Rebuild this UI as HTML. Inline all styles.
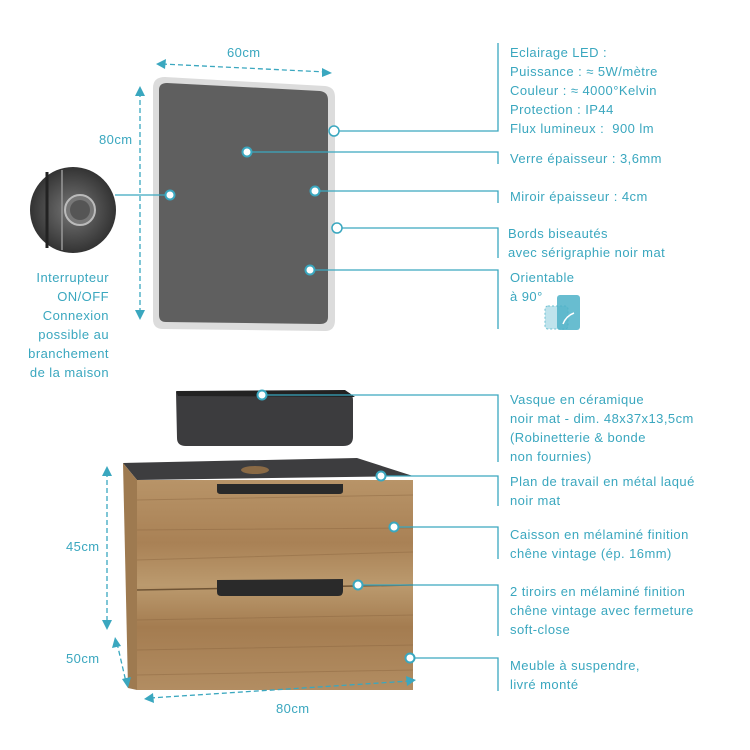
<!DOCTYPE html>
<html><head><meta charset="utf-8"><style>
body{margin:0;width:750px;height:750px;background:#fff;overflow:hidden;position:relative;font-family:"Liberation Sans",sans-serif;color:#3aa7bf}
.t{position:absolute;font-size:13px;letter-spacing:0.45px;line-height:19px;white-space:nowrap}
.r{text-align:right}
</style></head><body>
<svg width="750" height="750" style="position:absolute;left:0;top:0">
<defs>
<linearGradient id="wood" x1="0" y1="0" x2="0" y2="1">
<stop offset="0" stop-color="#b89468"/><stop offset="0.3" stop-color="#a98155"/><stop offset="0.5" stop-color="#bb9a6e"/><stop offset="0.7" stop-color="#a47c50"/><stop offset="1" stop-color="#b28d62"/></linearGradient>
<radialGradient id="sw" cx="0.5" cy="0.5" r="0.5"><stop offset="0" stop-color="#777"/><stop offset="1" stop-color="#333"/></radialGradient>
</defs>
<path d="M165,77 L325,86 Q335,87 335,97 L335,320 Q335,331 325,331 L163,329 Q153,329 153,319 L153,88 Q153,77 165,77Z" fill="#dcdcdc"/>
<path d="M167,83 L320,91 Q328,92 328,100 L328,317 Q328,324 320,324 L166,322 Q159,322 159,315 L159,90 Q159,83 167,83Z" fill="#5f5f5f"/>
<circle cx="73" cy="210" r="43" fill="url(#sw)"/>
<line x1="47" y1="172" x2="47" y2="248" stroke="#222" stroke-width="3"/>
<line x1="62" y1="170" x2="62" y2="250" stroke="#999" stroke-width="1.5"/>
<circle cx="80" cy="210" r="15" fill="#777" stroke="#bbb" stroke-width="2"/>
<circle cx="80" cy="210" r="10" fill="#555"/>
<path d="M176,392 L340,391 Q353,391 353,400 L353,437 Q353,446 343,446 L186,446 Q177,446 177,438Z" fill="#3c3c3e"/>
<path d="M176,391 L345,390 L355,397 L178,396Z" fill="#222"/>
<path d="M123,463 L357,458 L413,476 L137,480Z" fill="#3d3d3f"/>
<ellipse cx="255" cy="470" rx="14" ry="4" fill="#8a6a45"/>
<path d="M123,463 L137,480 L137,690 L128,688Z" fill="#9e7a50"/>
<rect x="137" y="480" width="276" height="210" fill="url(#wood)"/>
<path d="M137,500 L413,495 M137,530 L413,528 M137,560 L413,552 M137,620 L413,615 M137,650 L413,645 M137,675 L413,670" stroke="#8b6640" stroke-width="1" opacity=".45"/>
<line x1="137" y1="590" x2="413" y2="585" stroke="#6f5435" stroke-width="1.5"/>
<path d="M217,484 L343,484 L343,491 Q343,494 339,494 L221,494 Q217,494 217,491Z" fill="#2a2a2a"/>
<path d="M217,580 L343,579 L343,591 Q343,596 338,596 L221,596 Q217,596 217,592Z" fill="#2a2a2a"/>
<g stroke="#3aa7bf" stroke-width="1.3" fill="none">
<path d="M334,131 H498 V43"/>
<path d="M247,152 H498 V164"/>
<path d="M315,191 H498 V203"/>
<path d="M337,228 H498 V258"/>
<path d="M310,270 H498 V329"/>
<path d="M115,195 H170"/>
<path d="M262,395 H498 V462"/>
<path d="M381,476 H498 V506"/>
<path d="M394,527 H498 V559"/>
<path d="M358,585 H498 V636"/>
<path d="M410,658 H498 V691"/>
<g stroke-dasharray="5,3">
<line x1="162" y1="64" x2="326" y2="72"/>
<line x1="140" y1="92" x2="140" y2="314"/>
<line x1="107" y1="472" x2="107" y2="624"/>
<line x1="117" y1="643" x2="126" y2="682"/>
<line x1="150" y1="698" x2="410" y2="681"/>
</g>
</g>
<g fill="#3aa7bf">
<path d="M156,64 L166,59 L165,69Z"/><path d="M332,73 L322,68 L322,77Z"/>
<path d="M140,86 L135,96 L145,96Z"/><path d="M140,320 L135,310 L145,310Z"/>
<path d="M107,466 L102,476 L112,476Z"/><path d="M107,630 L102,620 L112,620Z"/>
<path d="M115,637 L112,648 L121,646Z"/><path d="M128,688 L122,679 L131,677Z"/>
<path d="M144,699 L153,693 L154,703Z"/><path d="M416,680 L406,676 L407,686Z"/>
</g>
<g fill="#fff" stroke="#3aa7bf" stroke-width="1.5">
<circle cx="334" cy="131" r="5"/><circle cx="337" cy="228" r="5"/>
</g>
<g fill="#fff" stroke="#3aa7bf" stroke-width="2">
<circle cx="247" cy="152" r="4.5"/><circle cx="170" cy="195" r="4.5"/><circle cx="315" cy="191" r="4.5"/><circle cx="310" cy="270" r="4.5"/>
<circle cx="262" cy="395" r="4.5"/><circle cx="381" cy="476" r="4.5"/><circle cx="394" cy="527" r="4.5"/><circle cx="358" cy="585" r="4.5"/><circle cx="410" cy="658" r="4.5"/>
</g>
<rect x="545" y="306" width="23" height="23" rx="3" fill="#bfe3ec" stroke="#6cc0d2" stroke-dasharray="2,2"/>
<rect x="557" y="295" width="23" height="35" rx="3" fill="#4db1c8" opacity=".85"/>
<path d="M563,324 Q566,316 574,313" stroke="#fff" stroke-width="1.5" fill="none"/>
</svg>
<div class="t" style="left:227px;top:43px">60cm</div>
<div class="t" style="left:99px;top:130px">80cm</div>
<div class="t r" style="right:641px;top:268px">Interrupteur<br>ON/OFF<br>Connexion<br>possible au<br>branchement<br>de la maison</div>
<div class="t" style="left:66px;top:537px">45cm</div>
<div class="t" style="left:66px;top:649px">50cm</div>
<div class="t" style="left:276px;top:699px">80cm</div>
<div class="t" style="left:510px;top:43px">Eclairage LED :<br>Puissance : ≈ 5W/mètre<br>Couleur : ≈ 4000°Kelvin<br>Protection : IP44<br>Flux lumineux :&nbsp; 900 lm</div>
<div class="t" style="left:510px;top:149px">Verre épaisseur : 3,6mm</div>
<div class="t" style="left:510px;top:187px">Miroir épaisseur : 4cm</div>
<div class="t" style="left:508px;top:224px">Bords biseautés<br>avec sérigraphie noir mat</div>
<div class="t" style="left:510px;top:268px">Orientable<br>à 90°</div>
<div class="t" style="left:510px;top:390px">Vasque en céramique<br>noir mat - dim. 48x37x13,5cm<br>(Robinetterie &amp; bonde<br>non fournies)</div>
<div class="t" style="left:510px;top:472px">Plan de travail en métal laqué<br>noir mat</div>
<div class="t" style="left:510px;top:525px">Caisson en mélaminé finition<br>chêne vintage (ép. 16mm)</div>
<div class="t" style="left:510px;top:582px">2 tiroirs en mélaminé finition<br>chêne vintage avec fermeture<br>soft-close</div>
<div class="t" style="left:510px;top:656px">Meuble à suspendre,<br>livré monté</div>
</body></html>
